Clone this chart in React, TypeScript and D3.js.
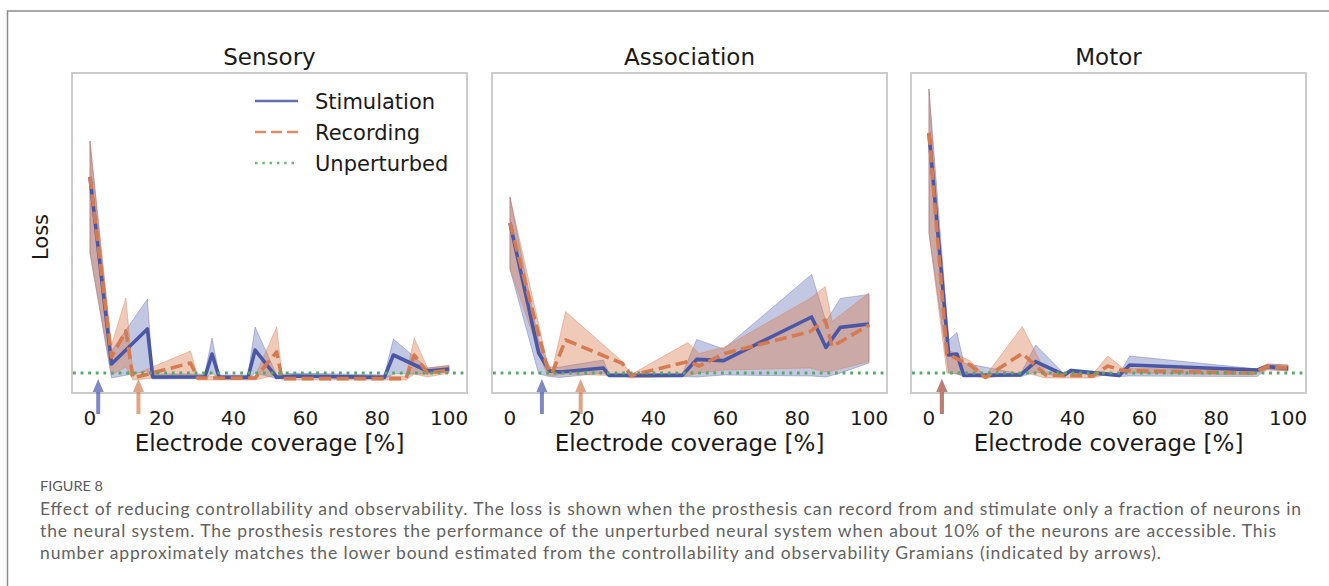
import * as d3 from "d3";

// shared axis / labels
const xTicks = [0, 20, 40, 60, 80, 100];
const panelTitles = ["Sensory", "Association", "Motor"];
const legendLabels = ["Stimulation", "Recording", "Unperturbed"];
const unperturbedLoss = 1.0;

// Sensory
const sensStimX = [0, 6, 16, 17.5, 32, 34, 36, 44, 46, 52, 57, 82, 84.5, 94, 100];
const sensStimMean = [10.8, 1.45, 3.2, 0.8, 0.8, 1.95, 0.78, 0.78, 2.15, 0.78, 0.85, 0.78, 1.9, 1.1, 1.2];
const sensStimLo = [7.0, 0.75, 1.1, 0.7, 0.72, 1.0, 0.7, 0.7, 1.0, 0.72, 0.8, 0.7, 0.95, 0.95, 1.05];
const sensStimHi = [12.6, 2.1, 4.7, 0.95, 0.95, 2.75, 0.9, 0.9, 3.3, 0.9, 1.0, 0.9, 2.7, 1.25, 1.35];
const sensRecX = [0, 6, 10, 12, 28, 30, 46, 52, 53.5, 88, 90.3, 94, 100];
const sensRecMean = [10.8, 1.8, 3.1, 0.75, 1.5, 0.75, 0.75, 2.05, 0.72, 0.72, 1.9, 1.0, 1.15];
const sensRecLo = [7.0, 0.9, 1.3, 0.65, 0.9, 0.65, 0.65, 0.9, 0.65, 0.65, 0.95, 0.8, 1.0];
const sensRecHi = [12.6, 2.4, 4.75, 0.9, 2.1, 0.85, 0.85, 3.3, 0.85, 0.85, 2.75, 1.25, 1.4];

// Association
const assoStimX = [0, 8, 11, 14, 26, 27.6, 48, 52, 59.5, 84, 88, 92, 100];
const assoStimMean = [8.5, 2.0, 1.1, 1.05, 1.25, 0.88, 0.88, 1.68, 1.62, 3.8, 2.28, 3.28, 3.45];
const assoStimLo = [6.2, 0.95, 0.82, 0.78, 1.0, 0.82, 0.82, 0.8, 0.9, 0.85, 0.8, 1.0, 1.5];
const assoStimHi = [9.8, 2.6, 1.3, 1.3, 1.65, 0.95, 0.95, 2.68, 2.2, 5.93, 3.57, 4.73, 4.93];
const assoRecX = [0, 10.3, 11.7, 15.5, 31.3, 33.7, 49.5, 52.8, 59.8, 83.6, 87.8, 89.7, 100];
const assoRecMean = [8.5, 1.32, 0.98, 2.65, 1.48, 0.88, 1.57, 1.35, 1.98, 3.07, 3.65, 2.32, 3.4];
const assoRecLo = [6.2, 0.9, 0.85, 0.95, 0.85, 0.75, 0.85, 1.0, 1.15, 1.25, 1.05, 1.1, 1.57];
const assoRecHi = [9.8, 1.6, 1.1, 4.07, 1.57, 0.92, 2.52, 1.98, 2.3, 4.73, 5.32, 3.57, 5.0];

// Motor
const motStimX = [0, 5.5, 7.8, 9.7, 25.5, 29.7, 37.7, 39.5, 53, 55.9, 91.4, 94.2, 100];
const motStimMean = [13.0, 1.9, 1.95, 0.88, 0.9, 1.57, 0.9, 1.12, 0.88, 1.4, 1.15, 1.32, 1.23];
const motStimLo = [8.0, 1.0, 0.95, 0.82, 0.82, 1.05, 0.8, 1.0, 0.82, 0.85, 0.82, 1.2, 1.1];
const motStimHi = [15.2, 2.65, 3.03, 1.5, 0.95, 2.4, 0.95, 1.2, 0.95, 1.85, 1.2, 1.45, 1.4];
const motRecX = [0, 5, 11.5, 15.7, 26, 32.5, 45.6, 49.8, 54, 90, 94.2, 100];
const motRecMean = [13.0, 1.95, 1.4, 0.78, 1.98, 0.9, 0.85, 1.35, 1.12, 1.0, 1.32, 1.25];
const motRecLo = [8.0, 1.0, 0.9, 0.72, 1.05, 0.75, 0.75, 0.95, 1.0, 0.9, 1.15, 1.1];
const motRecHi = [15.2, 2.2, 1.6, 0.85, 3.32, 1.05, 0.95, 1.85, 1.25, 1.1, 1.45, 1.4];

// Gramian lower bounds (arrows): [stimulation, recording]
const sensArrows = [2.3, 13.5];
const assoArrows = [8.9, 19.7];
const motArrows = [3.6, 3.6];

const captionTitle = "FIGURE 8";
const captionLines = [
  "Effect of reducing controllability and observability. The loss is shown when the prosthesis can record from and stimulate only a fraction of neurons in",
  "the neural system. The prosthesis restores the performance of the unperturbed neural system when about 10% of the neurons are accessible. This",
  "number approximately matches the lower bound estimated from the controllability and observability Gramians (indicated by arrows).",
];

const W = 1329;
const H = 586;
const panelLefts = [72, 492, 911];
const panelW = 395;
const plotTop = 73;
const plotBottom = 393;

const BLUE = "#4a57a6";
const ORANGE = "#d67a50";
const GREEN = "#55a868";
const FONT = "'DejaVu Sans', sans-serif";

type Pt = { x: number; m: number; lo: number; hi: number };

const toPts = (xs: number[], m: number[], lo: number[], hi: number[]): Pt[] =>
  xs.map((x, i) => ({ x, m: m[i], lo: lo[i], hi: hi[i] }));

const panels = [
  {
    title: panelTitles[0],
    stim: toPts(sensStimX, sensStimMean, sensStimLo, sensStimHi),
    rec: toPts(sensRecX, sensRecMean, sensRecLo, sensRecHi),
    arrows: sensArrows,
  },
  {
    title: panelTitles[1],
    stim: toPts(assoStimX, assoStimMean, assoStimLo, assoStimHi),
    rec: toPts(assoRecX, assoRecMean, assoRecLo, assoRecHi),
    arrows: assoArrows,
  },
  {
    title: panelTitles[2],
    stim: toPts(motStimX, motStimMean, motStimLo, motStimHi),
    rec: toPts(motRecX, motRecMean, motRecLo, motRecHi),
    arrows: motArrows,
  },
];

function Panel({ idx }: { idx: number }) {
  const p = panels[idx];
  const left = panelLefts[idx];
  const x = d3.scaleLinear().domain([-5, 105]).range([left, left + panelW]);
  const y = d3.scaleLinear().domain([0, 16]).range([plotBottom, plotTop]);

  const area = d3
    .area<Pt>()
    .x((d) => x(d.x))
    .y0((d) => y(d.lo))
    .y1((d) => y(d.hi));
  const line = d3
    .line<Pt>()
    .x((d) => x(d.x))
    .y((d) => y(d.m));

  const arrowPath = (ax: number) => {
    const t = 379;
    const b = 392;
    const e = 414;
    return `M${ax},${t}L${ax + 5.5},${b}L${ax + 2},${b}L${ax + 2},${e}L${ax - 2},${e}L${ax - 2},${b}L${ax - 5.5},${b}Z`;
  };

  const cx = left + panelW / 2;

  return (
    <g>
      <text x={cx} y={65} textAnchor="middle" fontSize={23} fontFamily={FONT} fill="#1a1a1a">
        {p.title}
      </text>

      <path d={area(p.stim) || ""} fill={BLUE} fillOpacity={0.33} stroke={BLUE} strokeOpacity={0.35} strokeWidth={1} />
      <path d={area(p.rec) || ""} fill={ORANGE} fillOpacity={0.4} stroke={ORANGE} strokeOpacity={0.4} strokeWidth={1} />
      <path d={line(p.stim) || ""} fill="none" stroke={BLUE} strokeWidth={3.6} strokeLinejoin="round" />
      <path d={line(p.rec) || ""} fill="none" stroke={ORANGE} strokeWidth={3.6} strokeDasharray="12 5.5" strokeLinejoin="round" />

      <line
        x1={left + 1}
        x2={left + panelW - 1}
        y1={y(unperturbedLoss)}
        y2={y(unperturbedLoss)}
        stroke={GREEN}
        strokeWidth={2.8}
        strokeDasharray="2.8 4.8"
      />

      <rect x={left} y={plotTop} width={panelW} height={plotBottom - plotTop} fill="none" stroke="#cccccc" strokeWidth={2} />

      {p.arrows.map((a, i) => (
        <path key={i} d={arrowPath(x(a))} fill={i === 0 ? BLUE : ORANGE} fillOpacity={0.7} />
      ))}

      {xTicks.map((t) => (
        <text key={t} x={x(t)} y={425} textAnchor="middle" fontSize={20} fontFamily={FONT} fill="#1a1a1a">
          {t}
        </text>
      ))}
      <text x={cx} y={451} textAnchor="middle" fontSize={23} fontFamily={FONT} fill="#1a1a1a">
        Electrode coverage [%]
      </text>
    </g>
  );
}

function Legend() {
  const rows = [
    { label: legendLabels[0], color: BLUE, dash: undefined as string | undefined, w: 2.4 },
    { label: legendLabels[1], color: ORANGE, dash: "11 5", w: 2.4 },
    { label: legendLabels[2], color: GREEN, dash: "2.5 4.8", w: 2.5 },
  ];
  return (
    <g>
      {rows.map((r, i) => {
        const yy = 101 + i * 31;
        return (
          <g key={r.label}>
            <line x1={255} x2={298} y1={yy} y2={yy} stroke={r.color} strokeWidth={r.w} strokeDasharray={r.dash} strokeOpacity={0.85} />
            <text x={315} y={yy + 7.5} fontSize={21} fontFamily={FONT} fill="#1a1a1a">
              {r.label}
            </text>
          </g>
        );
      })}
    </g>
  );
}

export default function App() {
  return (
    <div style={{ position: "absolute", left: 0, top: 0 }}>
      <svg width={W} height={H} style={{ display: "block", background: "#ffffff" }}>
        <rect x={7.5} y={11} width={W + 20} height={H + 20} fill="none" stroke="#8a8a8a" strokeWidth={1.5} />
        {panels.map((_, i) => (
          <Panel key={i} idx={i} />
        ))}
        <Legend />
        <text
          transform="translate(48,237) rotate(-90)"
          textAnchor="middle"
          fontSize={21}
          fontFamily={FONT}
          fill="#1a1a1a"
        >
          Loss
        </text>
        <text x={40} y={491} fontSize={14} fontFamily="Lato, 'Open Sans', sans-serif" fill="#5a5a5a" textLength={63} lengthAdjust="spacingAndGlyphs">
          {captionTitle}
        </text>
        {captionLines.map((l, i) => (
          <text
            key={i}
            x={40}
            y={515 + i * 22}
            fontSize={17.5}
            fontFamily="Lato, 'Open Sans', sans-serif"
            fill="#626262"
            textLength={[1261, 1236, 1121][i]}
            lengthAdjust="spacing"
          >
            {l}
          </text>
        ))}
      </svg>
    </div>
  );
}
